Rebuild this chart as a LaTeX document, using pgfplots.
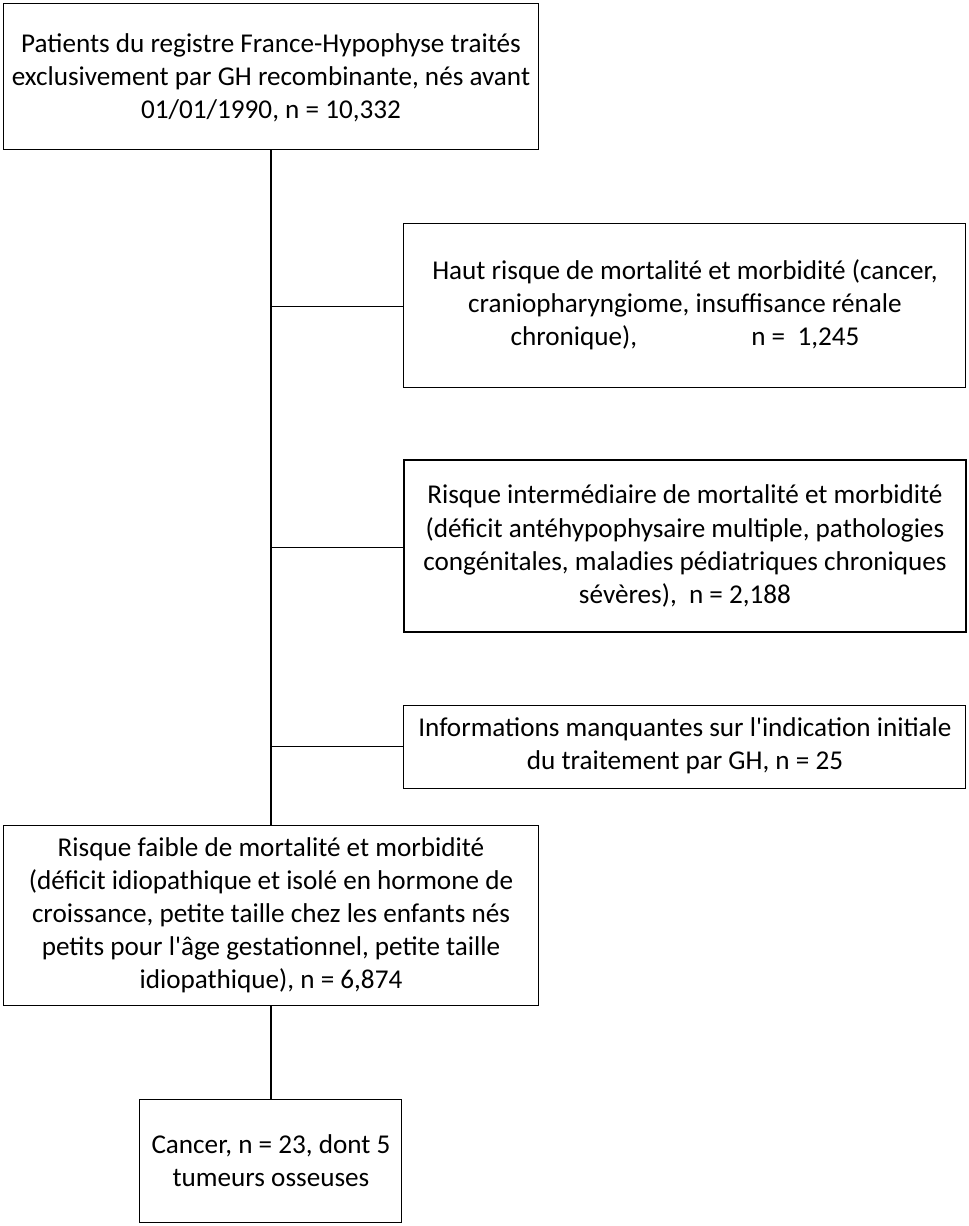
\documentclass[border=0pt]{standalone}
\usepackage{fontspec}
\setmainfont{Carlito}
\usepackage{pgfplots}
\pgfplotsset{compat=1.18}

\begin{document}
\begin{tikzpicture}
\begin{axis}[
    scale only axis,
    width=392.4pt, height=496.5pt,
    xmin=0, xmax=969, ymin=0, ymax=1226,
    y dir=reverse,
    hide axis,
    clip=false,
    cycle list={{black, solid, line width=0.95pt, mark=none}},
]
    % boxes
    \addplot coordinates {(3,3) (539,3) (539,149) (3,149)} -- cycle;
    \addplot coordinates {(404,223) (966,223) (966,387) (404,387)} -- cycle;
    \addplot coordinates {(404,460) (966,460) (966,632) (404,632)} -- cycle;
    \addplot coordinates {(404,705) (966,705) (966,788) (404,788)} -- cycle;
    \addplot coordinates {(3,825) (539,825) (539,1005) (3,1005)} -- cycle;
    \addplot coordinates {(140,1099) (402,1099) (402,1222) (140,1222)} -- cycle;

    % connectors
    \addplot coordinates {(271,149) (271,825)};
    \addplot coordinates {(271,306) (404,306)};
    \addplot coordinates {(271,547) (404,547)};
    \addplot coordinates {(271,746) (404,746)};
    \addplot coordinates {(271,1005) (271,1099)};

    \path (axis cs:0,0) (axis cs:969,1226);

    \begin{scope}[every node/.style={align=center, font=\fontsize{11}{13.4}\selectfont}]
    \node at (axis cs:271,78) {Patients du registre France-Hypophyse traités\\
        exclusivement par GH recombinante, nés avant\\ 01/01/1990, n = 10,332};
    \node at (axis cs:685,305) {Haut risque de mortalité et morbidité (cancer,\\
        craniopharyngiome, insuffisance rénale\\
        chronique),\hspace{4.2em}n =\ \ 1,245};
    \node at (axis cs:685,546) {Risque intermédiaire de mortalité et morbidité\\
        (déficit antéhypophysaire multiple, pathologies\\
        congénitales, maladies pédiatriques chroniques\\
        sévères),\ \ n = 2,188};
    \node at (axis cs:685,746) {Informations manquantes sur l\textquotesingle indication initiale\\
        du traitement par GH, n = 25};
    \node at (axis cs:271,915) {Risque faible de mortalité et morbidité\\
        (déficit idiopathique et isolé en hormone de\\
        croissance, petite taille chez les enfants nés\\
        petits pour l\textquotesingle âge gestationnel, petite taille\\
        idiopathique), n = 6,874};
    \node at (axis cs:271,1161) {Cancer, n = 23, dont 5\\ tumeurs osseuses};
    \end{scope}
\end{axis}
\end{tikzpicture}
\end{document}
